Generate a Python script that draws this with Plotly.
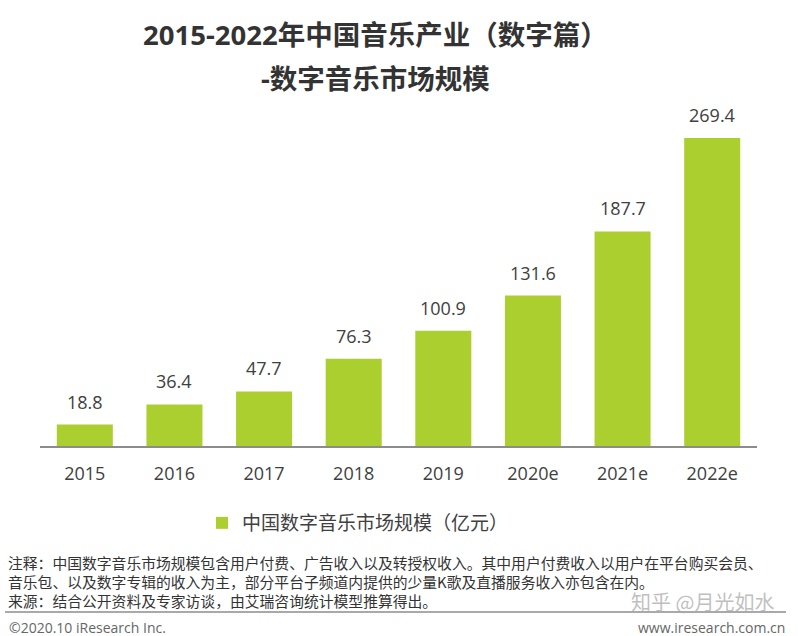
import plotly.graph_objects as go

categories = ["2015", "2016", "2017", "2018", "2019", "2020e", "2021e", "2022e"]
values = [18.8, 36.4, 47.7, 76.3, 100.9, 131.6, 187.7, 269.4]
value_labels = ["18.8", "36.4", "47.7", "76.3", "100.9", "131.6", "187.7", "269.4"]
series_name = "中国数字音乐市场规模（亿元）"
title_line1 = "2015-2022年中国音乐产业（数字篇）"
title_line2 = "-数字音乐市场规模"
notes = [
    "注释：中国数字音乐市场规模包含用户付费、广告收入以及转授权收入。其中用户付费收入以用户在平台购买会员、",
    "音乐包、以及数字专辑的收入为主，部分平台子频道内提供的少量K歌及直播服务收入亦包含在内。",
    "来源：结合公开资料及专家访谈，由艾瑞咨询统计模型推算得出。",
]
copyright_text = "©2020.10 iResearch Inc."
site_text = "www.iresearch.com.cn"
watermark = "知乎 @月光如水"

FONT = "Open Sans, Noto Sans CJK SC, sans-serif"
CJK = "Noto Sans CJK SC, sans-serif"
GREEN = "#ACCF30"
TXT = "#404040"

W, H = 798, 636
L, R, T, B = 40, 41, 100, 190


def paper_x(xp):
    return (xp - L) / (W - L - R)


def paper_y(yp):
    return (H - B - yp) / (H - T - B)


idx = list(range(len(categories)))

fig = go.Figure()
fig.add_trace(go.Bar(
    x=idx, y=values, name=series_name, width=0.625,
    marker=dict(color=GREEN, line=dict(width=0)),
    showlegend=True,
))

annotations = []
for i, v, t in zip(idx, values, value_labels):
    annotations.append(dict(x=i, y=v, xref="x", yref="y", text=t, showarrow=False,
                            yanchor="bottom", yshift=9,
                            font=dict(family=FONT, size=18, color=TXT)))

annotations.append(dict(x=paper_x(375), y=paper_y(35), xref="paper", yref="paper",
                        text="<b>" + title_line1 + "</b>", showarrow=False,
                        xanchor="center", yanchor="middle",
                        font=dict(family=FONT, size=27.5, color="#333333")))
annotations.append(dict(x=paper_x(375), y=paper_y(78), xref="paper", yref="paper",
                        text="<b>" + title_line2 + "</b>", showarrow=False,
                        xanchor="center", yanchor="middle",
                        font=dict(family=FONT, size=27.5, color="#333333")))
annotations.append(dict(x=paper_x(6), y=paper_y(581), xref="paper", yref="paper",
                        text="<br>".join(notes), showarrow=False, xanchor="left", yanchor="middle",
                        align="left",
                        font=dict(family=CJK, size=14.8, color="#333333")))
annotations.append(dict(x=paper_x(776), y=paper_y(601), xref="paper", yref="paper",
                        text=watermark, showarrow=False, xanchor="right", yanchor="middle",
                        font=dict(family=CJK, size=20, color="rgba(170,170,170,0.75)")))
annotations.append(dict(x=paper_x(7), y=paper_y(627), xref="paper", yref="paper",
                        text=copyright_text, showarrow=False, xanchor="left", yanchor="middle",
                        font=dict(family="Open Sans, sans-serif", size=14, color="#666666")))
annotations.append(dict(x=paper_x(787), y=paper_y(627), xref="paper", yref="paper",
                        text=site_text, showarrow=False, xanchor="right", yanchor="middle",
                        font=dict(family="Open Sans, sans-serif", size=14, color="#666666")))

shapes = [dict(type="line", xref="paper", yref="paper",
               x0=paper_x(5), x1=paper_x(786), y0=paper_y(612), y1=paper_y(612),
               line=dict(color="#8c8c8c", width=1.5))]

fig.update_layout(
    width=W, height=H,
    margin=dict(l=L, r=R, t=T, b=B, autoexpand=False),
    paper_bgcolor="white", plot_bgcolor="white",
    annotations=annotations,
    shapes=shapes,
    showlegend=True,
    legend=dict(orientation="h", x=paper_x(202), y=paper_y(523), xanchor="left", yanchor="middle",
                font=dict(family=CJK, size=19, color=TXT), itemwidth=30,
                bgcolor="rgba(0,0,0,0)"),
    xaxis=dict(type="linear", range=[-0.5, len(categories) - 0.5],
               tickmode="array", tickvals=idx, ticktext=categories,
               showline=True, linecolor="#8c8c8c", linewidth=1.5, showgrid=False, zeroline=False,
               ticks="outside", ticklen=11, tickcolor="rgba(0,0,0,0)",
               tickfont=dict(family=FONT, size=18, color=TXT), fixedrange=True),
    yaxis=dict(range=[0, 302.7], visible=False, showgrid=False, zeroline=False, fixedrange=True),
)

fig.write_html("out.html", config={"displayModeBar": False},
               post_script="document.body.style.margin='0';")
